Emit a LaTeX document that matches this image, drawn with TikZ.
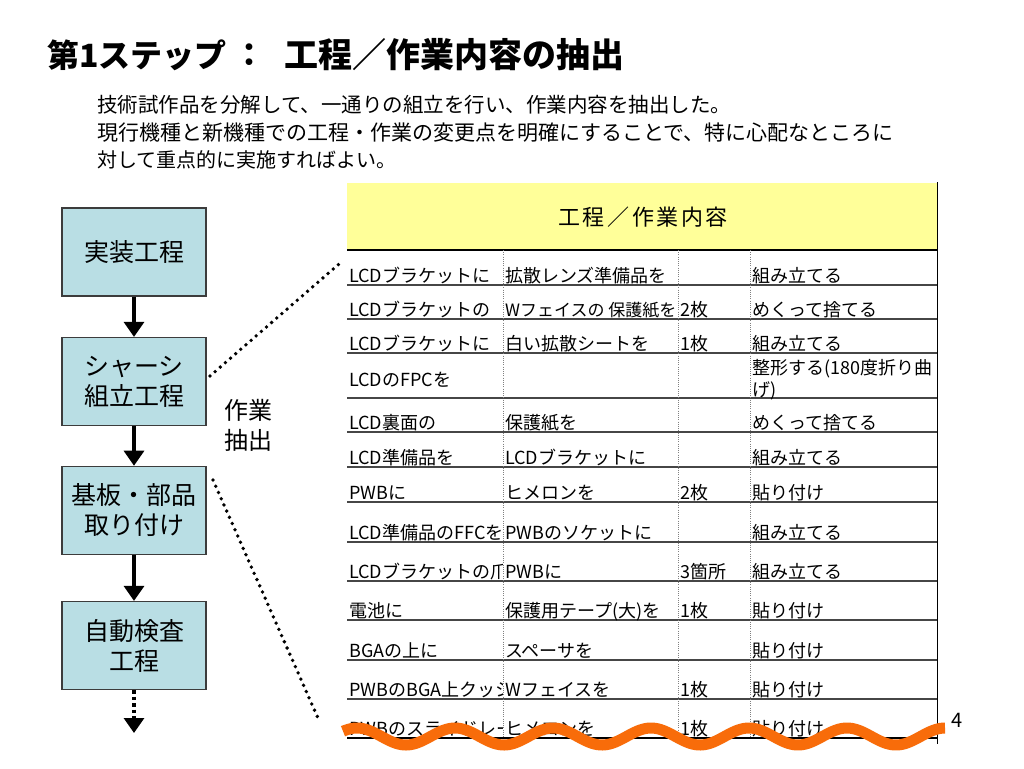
\documentclass[tikz,border=0pt]{standalone}
\usepackage{fontspec}
\setmainfont{Noto Sans CJK JP}
\usetikzlibrary{arrows.meta}
\definecolor{boxfill}{RGB}{185,222,228}
\definecolor{boxline}{RGB}{60,60,60}
\definecolor{hdrfill}{RGB}{255,255,153}
\definecolor{wavecol}{RGB}{248,108,10}
\definecolor{rowcol}{RGB}{70,70,70}
\tikzset{
  procbox/.style={draw=boxline, line width=1.2pt, fill=boxfill, minimum width=144pt, minimum height=88pt,
    align=center, inner sep=0pt, font=\fontsize{25}{30}\selectfont},
  flowarr/.style={line width=3.2pt, -{Triangle[width=20pt,length=15pt]}},
  dotarr/.style={line width=3.2pt, dash pattern=on 3.5pt off 3pt, -{Triangle[width=20pt,length=15pt]}},
  zoomline/.style={line width=3.8pt, dash pattern=on 0pt off 6.8pt, line cap=round},
  cell/.style={anchor=base west, inner sep=0pt, font=\fontsize{18}{21}\selectfont},
  rowline/.style={draw=rowcol, line width=1.5pt},
  coldiv/.style={draw=gray, line width=0.8pt, dash pattern=on 1pt off 1.2pt},
  titlefont/.style={font=\fontsize{#1}{#1}\selectfont\bfseries},
}
\newcommand\trow[6]{%
  \begin{scope}
    \clip (347,150) rectangle (502.5,760);
    \if\relax\detokenize{#3}\relax\else\node[cell] (#1a) at (349,#2) {#3};\fi
  \end{scope}
  \if\relax\detokenize{#4}\relax\else\node[cell] (#1b) at (505,#2) {#4};\fi
  \if\relax\detokenize{#5}\relax\else\node[cell] (#1c) at (680,#2) {#5};\fi
  \if\relax\detokenize{#6}\relax\else\node[cell] (#1d) at (752,#2) {#6};\fi
}
\begin{document}
\begin{tikzpicture}[x=1pt,y=-1pt]
\useasboundingbox (0,0) rectangle (1024,768);
\fill[white] (0,0) rectangle (1024,768);

% title and lead text
\node[anchor=west, inner sep=0pt, titlefont=32] (title1) at (47,55) {第1ステップ};
\node[inner sep=0pt, titlefont=32] (title2) at (249,55) {：};
\node[anchor=west, inner sep=0pt, titlefont=34] (title3) at (284,55) {工程／作業内容の抽出};
\node[anchor=west, inner sep=0pt, font=\fontsize{20.5}{24}\selectfont] (lead1) at (97,105)
  {技術試作品を分解して、一通りの組立を行い、作業内容を抽出した。};
\node[anchor=west, inner sep=0pt, font=\fontsize{21}{24}\selectfont] (lead2) at (97,133)
  {現行機種と新機種での工程・作業の変更点を明確にすることで、特に心配なところに};
\node[anchor=west, inner sep=0pt, font=\fontsize{20}{24}\selectfont] (lead3) at (97,160)
  {対して重点的に実施すればよい。};

% process flow
\node[procbox] (b1) at (134,252) {実装工程};
\node[procbox] (b2) at (134,381.5) {シャーシ\\組立工程};
\node[procbox] (b3) at (134,510.3) {基板・部品\\取り付け};
\node[procbox] (b4) at (134,645.5) {自動検査\\工程};
\coordinate (flowend) at (134,733);
\draw[flowarr] (b1.south) -- (b2.north);
\draw[flowarr] (b2.south) -- (b3.north);
\draw[flowarr] (b3.south) -- (b4.north);
\draw[dotarr] (b4.south) -- (flowend);

\node[anchor=west, inner sep=0pt, align=left, font=\fontsize{24}{30}\selectfont] (extract) at (224,425)
  {作業\\抽出};

% table
\fill[hdrfill] (347,183) rectangle (937,250);
\node[font=\fontsize{22}{26}\selectfont\addfontfeature{LetterSpace=12}] (hdr) at (643,217) {工程／作業内容};
\foreach \yy in {285,319,353,398,432,467,502,542,581,620,660,699}
  \draw[rowline] (347,\yy) -- (937,\yy);
\draw[draw=black, line width=1.5pt] (347,250) -- (937,250);
\foreach \xx in {503,678,750}
  \draw[coldiv] (\xx,250) -- (\xx,738);

\trow{r1}{282}{LCDブラケットに}{拡散レンズ準備品を}{}{組み立てる}
\trow{r2}{316}{LCDブラケットの}{}{2枚}{めくって捨てる}
\node[cell, font=\fontsize{17}{20}\selectfont] (r2b) at (505,316) {Wフェイスの 保護紙を};
\trow{r3}{350}{LCDブラケットに}{白い拡散シートを}{1枚}{組み立てる}
\trow{r4}{386}{LCDのFPCを}{}{}{}
\node[cell] (r4d) at (752,374) {整形する(180度折り曲};
\node[cell] (r4e) at (752,396) {げ)};
\trow{r5}{429}{LCD裏面の}{保護紙を}{}{めくって捨てる}
\trow{r6}{464}{LCD準備品を}{LCDブラケットに}{}{組み立てる}
\trow{r7}{499}{PWBに}{ヒメロンを}{2枚}{貼り付け}
\trow{r8}{539}{LCD準備品のFFCを}{PWBのソケットに}{}{組み立てる}
\trow{r9}{578}{LCDブラケットの爪を}{PWBに}{3箇所}{組み立てる}
\trow{r10}{617}{電池に}{保護用テープ(大)を}{1枚}{貼り付け}
\trow{r11}{657}{BGAの上に}{スペーサを}{}{貼り付け}
\trow{r12}{696}{PWBのBGA上クッシ}{Wフェイスを}{1枚}{貼り付け}
\trow{r13}{735}{PWBのスライドレー}{ヒメロンを}{1枚}{貼り付け}
\draw[draw=black, line width=2pt] (347,738) -- (937,738);
\draw[draw=black, line width=1pt] (937.5,182) -- (937.5,744);

% zoom lines
\coordinate (z1s) at (210,376);
\coordinate (z1e) at (339,264);
\coordinate (z2s) at (213,480);
\coordinate (z2e) at (318,718);
\draw[zoomline] (z1s) -- (z1e);
\draw[zoomline] (z2s) -- (z2e);

% torn edge wave
\draw[wavecol, line width=11pt] plot[domain=343:945, samples=240, smooth]
  (\x, {736.5 - 8.5*cos((\x-357)*3.6735)});

% page number
\node[font=\fontsize{20}{24}\selectfont] (pageno) at (957,720) {4};
\end{tikzpicture}
\end{document}
